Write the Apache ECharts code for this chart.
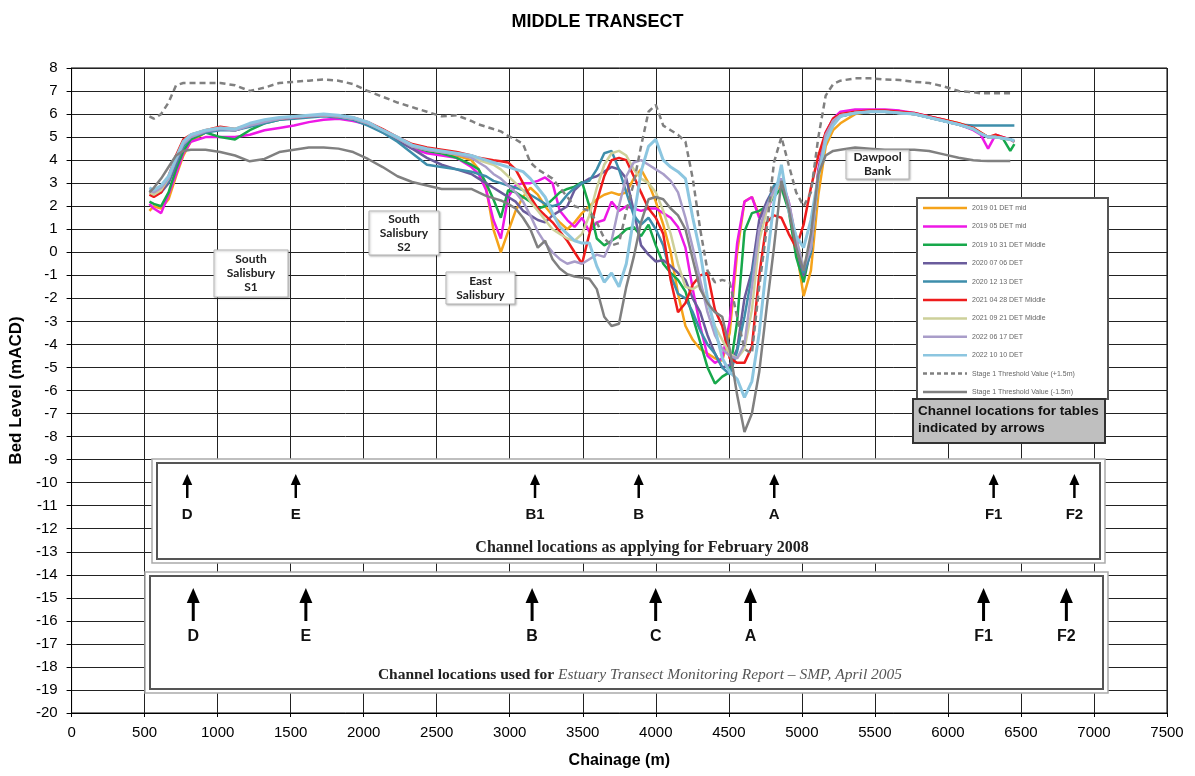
<!DOCTYPE html>
<html><head><meta charset="utf-8">
<script src="https://cdn.jsdelivr.net/npm/echarts@6/dist/echarts.min.js"></script>
<style>html,body{margin:0;padding:0;background:#fff}#c{width:1195px;height:776px}</style>
</head><body><div id="c"></div>
<script>
// ---- DATA ----
const CH = [533,563,613,664,715,765,816,917,1018,1119,1220,1321,1422,1523,1624,1726,1827,1928,2029,2130,2231,2332,2433,2534,2636,2737,
2787,2838,2888,2939,2989,3040,3091,3141,3192,3242,
3293,3343,3394,3444,3495,3545,3596,3647,3697,3748,
3798,3849,3899,3950,4000,4051,4102,4152,4203,4253,
4304,4354,4405,4455,4506,4557,4607,4658,4708,4759,
4809,4860,4910,4961,5012,5062,5113,5163,5214,
5264,5365,5467,5568,5669,5770,5871,5972,6073,6174,6225,6275,6326,6376,6427,6455];

const NAMES = ['2019 01 DET mid','2019 05 DET mid','2019 10 31 DET Middle','2020 07 06 DET','2020 12 13 DET','2021 04 28 DET Middle','2021 09 21 DET Middle','2022 06 17 DET','2022 10 10 DET','Stage 1 Threshold Value (+1.5m)','Stage 1 Threshold Value (-1.5m)'];

const S201901 = [1.8,2.0,1.9,2.3,3.3,4.2,4.8,5.2,5.35,5.3,5.5,5.65,5.8,5.85,5.9,5.95,5.9,5.8,5.6,5.25,4.9,4.6,4.4,4.3,4.2,4.0,
3.6,2.8,1.0,0.0,0.9,1.8,2.4,2.8,2.5,2.0,
1.6,1.3,1.0,1.3,1.7,2.0,2.3,2.5,2.6,2.5,
2.6,3.2,3.6,3.0,2.2,1.2,0.0,-1.8,-3.2,-3.8,
-4.2,-4.4,-4.6,-4.7,-3.5,0.0,2.2,2.4,1.6,2.0,
2.6,3.0,2.0,0.2,-1.9,-0.8,2.5,4.6,5.3,
5.6,6.0,6.1,6.1,6.05,6.0,5.9,5.75,5.6,5.4,5.2,5.0,5.0,4.95,4.9,4.8];

const S201905 = [2.1,1.9,1.7,2.5,3.4,4.3,4.8,5.0,5.0,5.0,5.1,5.3,5.4,5.5,5.65,5.75,5.8,5.7,5.55,5.25,4.9,4.5,4.3,4.2,4.1,3.7,
3.4,2.7,1.4,0.6,2.4,2.9,3.0,3.0,3.1,3.25,
3.0,1.8,1.4,1.1,1.5,0.9,1.3,1.4,2.2,1.8,
2.0,1.9,1.8,1.9,1.9,1.7,1.5,1.1,0.2,-1.6,
-3.2,-4.5,-4.8,-4.6,-3.0,0.4,2.2,2.4,1.5,1.8,
2.5,3.2,2.2,0.4,-1.2,0.5,3.6,5.2,5.8,
6.1,6.2,6.2,6.2,6.15,6.05,5.9,5.75,5.55,5.3,5.1,4.5,5.1,5.0,4.9,4.8];

const S201910 = [2.2,2.1,2.0,2.6,3.6,4.4,4.9,5.2,5.0,4.9,5.3,5.6,5.75,5.85,5.9,5.95,5.9,5.8,5.6,5.25,4.9,4.6,4.4,4.3,4.1,3.8,
3.6,3.0,2.3,1.5,2.7,2.6,2.4,2.2,1.9,2.0,
2.3,2.6,2.75,2.85,3.05,2.0,0.6,0.3,0.5,0.7,
1.0,1.1,0.7,1.2,0.3,-0.5,-0.9,-1.2,-1.7,-2.8,
-3.9,-5.0,-5.7,-5.4,-5.2,-3.0,0.9,1.7,1.8,2.0,
2.4,2.8,1.8,-0.2,-1.3,0.2,3.3,5.0,5.6,
5.9,6.05,6.1,6.1,6.05,6.0,5.85,5.7,5.55,5.35,5.15,5.0,5.0,4.95,4.4,4.7];

const S202007 = [2.6,2.5,2.6,3.0,3.8,4.6,5.0,5.25,5.35,5.3,5.5,5.65,5.8,5.85,5.9,5.95,5.9,5.8,5.55,5.2,4.85,4.5,4.1,3.8,3.6,3.4,
3.2,3.0,2.8,2.6,2.4,2.2,1.8,1.6,1.4,1.3,
1.6,1.8,2.0,2.7,3.0,3.2,3.3,3.5,3.7,3.6,
3.2,1.8,0.3,-0.1,-0.4,-0.35,-0.6,-0.9,-1.2,-2.0,
-2.6,-3.6,-4.4,-5.0,-4.9,-4.2,-2.0,-0.8,1.4,2.2,
2.8,3.0,2.0,0.3,-1.0,0.0,3.5,5.1,5.7,
5.95,6.05,6.1,6.1,6.05,6.0,5.85,5.7,5.55,5.35,5.15,5.0,5.0,4.95,4.9,4.8];

const S202012 = [2.7,2.6,2.7,3.1,3.9,4.6,5.0,5.2,5.3,5.3,5.45,5.6,5.75,5.8,5.85,5.9,5.85,5.75,5.5,5.2,4.8,4.3,3.8,3.7,3.6,3.5,
3.4,3.3,3.1,3.0,2.9,2.8,2.7,2.5,2.3,2.1,
2.0,2.1,2.5,2.8,3.0,3.1,3.6,4.3,4.4,3.6,
2.6,1.6,1.2,1.5,1.0,0.3,-1.0,-1.8,-2.0,-2.6,
-3.4,-4.0,-4.4,-5.0,-5.3,-4.3,-2.8,-1.0,0.8,2.0,
2.9,3.1,2.0,0.4,-0.9,0.0,3.4,5.0,5.6,
5.9,6.05,6.1,6.1,6.05,6.0,5.85,5.7,5.55,5.5,5.5,5.5,5.5,5.5,5.5,5.5];

const S202104 = [2.5,2.4,2.6,3.3,4.2,4.9,5.1,5.3,5.45,5.35,5.55,5.7,5.8,5.85,5.9,5.95,5.9,5.85,5.65,5.35,5.0,4.7,4.55,4.45,4.35,4.2,
4.1,4.05,4.0,3.95,3.9,3.6,3.0,2.4,1.9,1.6,
1.3,0.9,0.5,0.0,-0.5,0.8,2.2,3.3,4.0,4.1,
4.0,3.3,2.6,1.9,1.5,0.8,-1.2,-2.6,-2.2,-1.4,
-1.0,-0.9,-2.5,-3.2,-4.6,-4.8,-4.8,-4.1,-1.0,1.3,
1.6,1.5,0.8,0.2,1.2,2.8,4.2,5.2,5.8,
6.0,6.1,6.15,6.15,6.1,6.05,5.9,5.75,5.6,5.4,5.2,5.0,5.1,5.0,4.9,4.8];

const S202109 = [2.6,2.5,2.7,3.2,4.1,4.8,5.1,5.3,5.4,5.35,5.55,5.7,5.8,5.9,5.95,5.95,5.9,5.8,5.6,5.3,4.95,4.6,4.45,4.35,4.25,4.15,
4.0,3.9,3.8,3.6,3.3,3.0,2.7,2.2,1.8,1.4,
1.0,0.8,0.6,0.5,0.8,1.6,2.8,3.8,4.3,4.4,
4.2,3.6,3.2,3.0,2.6,1.8,0.8,-0.5,-1.5,-1.6,
-1.4,-2.2,-3.2,-3.8,-4.4,-4.6,-4.2,-2.5,0.5,1.8,
2.6,3.1,2.1,0.6,-0.6,0.2,3.3,5.0,5.7,
5.95,6.05,6.1,6.1,6.05,6.0,5.85,5.7,5.55,5.35,5.15,5.0,5.0,4.95,4.9,4.8];

const S202206 = [2.7,2.6,2.8,3.2,4.0,4.7,5.0,5.25,5.35,5.3,5.5,5.65,5.8,5.85,5.9,5.95,5.9,5.8,5.6,5.3,4.95,4.6,4.45,4.35,4.25,4.1,
3.9,3.7,3.4,3.2,2.9,2.6,2.2,1.6,0.9,0.4,
0.0,-0.3,-0.5,-0.4,-0.5,-0.3,-0.1,-0.2,0.5,2.0,
3.3,3.9,4.0,3.8,3.6,3.4,3.1,2.6,1.5,0.2,
-1.2,-2.6,-3.6,-4.2,-4.5,-4.6,-4.0,-1.5,1.0,2.0,
2.7,3.2,2.2,0.6,-0.7,0.2,3.4,5.1,5.7,
5.95,6.05,6.1,6.1,6.05,6.0,5.85,5.7,5.55,5.35,5.15,5.0,5.0,4.95,4.9,4.8];

const S202210 = [2.8,2.7,2.9,3.3,4.1,4.8,5.1,5.3,5.4,5.35,5.6,5.75,5.85,5.9,5.95,6.0,5.95,5.85,5.65,5.3,5.0,4.65,4.5,4.4,4.3,4.2,
4.1,4.0,3.9,3.8,3.7,3.6,3.5,3.2,2.8,2.4,
1.7,1.1,0.8,0.5,0.4,0.4,-0.6,-1.3,-0.9,-1.5,
-0.5,1.5,3.5,4.6,4.9,4.0,3.7,3.5,3.2,1.5,
0.0,-2.0,-3.3,-4.6,-5.2,-5.5,-6.3,-5.6,-3.5,-0.5,
2.2,3.8,1.8,0.7,0.2,1.4,3.3,4.8,5.5,
5.9,6.05,6.1,6.1,6.05,6.0,5.85,5.7,5.55,5.35,5.15,5.0,5.0,4.95,4.9,4.85];

const TH_UP = [5.9,5.8,6.0,6.5,7.25,7.35,7.35,7.35,7.35,7.25,7.0,7.15,7.35,7.4,7.45,7.5,7.45,7.3,7.0,6.75,6.5,6.3,6.1,5.9,5.95,5.7,
5.55,5.45,5.35,5.25,5.05,4.9,4.7,3.9,3.6,3.4,
3.2,2.8,2.4,2.0,1.9,1.8,1.3,0.6,0.3,0.4,
1.8,3.0,4.6,6.1,6.4,5.5,5.3,5.1,4.8,3.2,
1.0,-0.8,-1.3,-1.2,-1.3,-2.8,-4.2,-4.4,-1.5,1.0,
3.9,5.0,3.8,2.6,2.0,2.6,5.0,6.8,7.3,
7.45,7.55,7.55,7.5,7.48,7.4,7.35,7.2,7.0,6.95,6.9,6.9,6.9,6.9,6.9,null];

const TH_DN = [2.6,2.8,3.2,3.7,4.2,4.4,4.45,4.45,4.35,4.2,3.95,4.05,4.35,4.45,4.55,4.55,4.5,4.35,4.05,3.7,3.3,3.05,2.9,2.75,2.75,2.75,
2.6,2.45,2.35,2.25,2.1,1.9,1.5,1.0,0.2,0.5,
-0.3,-0.7,-0.95,-1.05,-1.1,-1.15,-1.6,-2.8,-3.2,-3.1,
-1.5,-0.2,1.3,2.3,2.4,2.3,1.9,1.6,1.0,-0.3,
-1.6,-2.2,-2.6,-2.8,-4.2,-6.2,-7.8,-7.0,-5.2,-2.4,
0.2,3.1,1.9,0.2,-0.8,0.8,3.4,4.2,4.4,
4.45,4.55,4.5,4.45,4.45,4.45,4.4,4.25,4.1,4.0,3.97,3.96,3.96,3.96,3.96,null];

const ARROW_2008_CH = [792,1535,3173,3883,4811,6313,6866];
const ARROW_2008_LB = ['D','E','B1','B','A','F1','F2'];
const ARROW_2005_CH = [833,1604,3153,3999,4648,6244,6811];
const ARROW_2005_LB = ['D','E','B','C','A','F1','F2'];

// ---- CHART ----
const SANS = 'Liberation Sans';
const SERIF = 'Liberation Serif';
const VALUES = [S201901,S201905,S201910,S202007,S202012,S202104,S202109,S202206,S202210,TH_UP,TH_DN];
const COLORS = ['#f5a31a','#ee18e6','#17a84b','#6a5c9c','#3e8eab','#ee1c1c','#cdd09a','#a99dc9','#8cc6e0','#808080','#808080'];
const WIDTHS = [2.5,2.5,2.5,2.5,2.5,2.5,2.5,2.5,3,2.5,2.5];

const series = VALUES.map((arr, k) => ({
  name: NAMES[k],
  type: 'line',
  symbol: 'none',
  showSymbol: false,
  connectNulls: false,
  z: 2,
  color: COLORS[k],
  lineStyle: {color: COLORS[k], width: WIDTHS[k], type: k === 9 ? [6, 4] : 'solid'},
  data: CH.map((x, i) => [x, arr[i] === null || arr[i] === undefined ? null : arr[i]])
}));

const chart = echarts.init(document.getElementById('c'), null, {renderer: 'canvas'});
chart.setOption({
  animation: false,
  backgroundColor: '#fff',
  title: {text: 'MIDDLE TRANSECT', left: 'center', top: 8,
    textStyle: {fontFamily: SANS, fontSize: 18, fontWeight: 'bold', color: '#000'}},
  grid: {left: 68, right: 28, top: 68, bottom: 63, show: true, borderColor: '#000', borderWidth: 1, backgroundColor: 'transparent'},
  xAxis: {type: 'value', min: 0, max: 7500, interval: 500,
    name: 'Chainage (m)', nameLocation: 'middle', nameGap: 40,
    nameTextStyle: {fontFamily: SANS, fontSize: 16, fontWeight: 'bold', color: '#000'},
    axisLine: {onZero: false, lineStyle: {color: '#000', width: 1}},
    axisTick: {show: true, length: 4, lineStyle: {color: '#000'}},
    axisLabel: {fontFamily: SANS, fontSize: 15, color: '#000', margin: 12, formatter: v => String(v)},
    splitLine: {show: true, lineStyle: {color: '#222', width: 1}}},
  yAxis: {type: 'value', min: -20, max: 8, interval: 1,
    name: 'Bed Level (mACD)', nameLocation: 'middle', nameGap: 42, nameRotate: 90,
    nameTextStyle: {fontFamily: SANS, fontSize: 17, fontWeight: 'bold', color: '#000'},
    axisLine: {show: true, onZero: false, lineStyle: {color: '#000', width: 1}},
    axisTick: {show: true, length: 5, lineStyle: {color: '#000'}},
    axisLabel: {fontFamily: SANS, fontSize: 15, color: '#000', margin: 14},
    splitLine: {show: true, lineStyle: {color: '#222', width: 1}}},
  series: series
});

const px = v => chart.convertToPixel({xAxisIndex: 0}, v);
const G = [];
// legend frame + items
G.push({type: 'rect', z: 20, shape: {x: 917, y: 198, width: 191, height: 201}, style: {fill: '#fff', stroke: '#555', lineWidth: 2}});
NAMES.forEach((n, i) => {
  const y = 208 + i * 18.4;
  G.push({type: 'line', z: 21, shape: {x1: 923, y1: y, x2: 967, y2: y},
    style: {stroke: COLORS[i], lineWidth: 2.5, lineDash: i === 9 ? [4, 3] : null}});
  G.push({type: 'text', z: 21, x: 972, y: y, style: {text: n, fill: '#666', font: '7px "Liberation Sans"', align: 'left', verticalAlign: 'middle'}});
});
G.push({type: 'rect', z: 22, shape: {x: 913, y: 399, width: 192, height: 44}, style: {fill: '#bfbfbf', stroke: '#333', lineWidth: 2}});
G.push({type: 'text', z: 23, x: 918, y: 403, style: {text: 'Channel locations for tables\nindicated by arrows', fill: '#111',
  font: 'bold 13.5px "Liberation Sans"', lineHeight: 17, align: 'left', verticalAlign: 'top'}});

function labelBox(x, y, w, h, txt) {
  G.push({type: 'rect', z: 20, shape: {x: x, y: y, width: w, height: h},
    style: {fill: '#fff', stroke: '#b5b5b5', lineWidth: 1, shadowBlur: 2, shadowColor: 'rgba(0,0,0,0.25)', shadowOffsetX: 1, shadowOffsetY: 1}});
  G.push({type: 'text', z: 21, x: x + w / 2, y: y + h / 2, style: {text: txt, fill: '#222',
    font: 'bold 12px Lato', lineHeight: 14, align: 'center', verticalAlign: 'middle'}});
}
labelBox(214, 250, 74, 47, 'South\nSalisbury\nS1');
labelBox(369, 211, 70, 44, 'South\nSalisbury\nS2');
labelBox(446, 272, 69, 32, 'East\nSalisbury');
labelBox(846, 150, 63, 29, 'Dawpool\nBank');

// arrow panels
function panel(x1, y1, x2, y2) {
  G.push({type: 'rect', z: 20, shape: {x: x1, y: y1, width: x2 - x1, height: y2 - y1}, style: {fill: '#fff', stroke: '#aaa', lineWidth: 1.5}});
  G.push({type: 'rect', z: 21, shape: {x: x1 + 5, y: y1 + 4, width: x2 - x1 - 10, height: y2 - y1 - 8}, style: {fill: 'none', stroke: '#555', lineWidth: 2}});
}
panel(152, 459, 1105, 563);
panel(145, 572, 1108, 693);

function arrow(cx, top, headH, halfW, bottom, lw, label, ly, fs) {
  G.push({type: 'polygon', z: 22, shape: {points: [[cx, top], [cx - halfW, top + headH], [cx + halfW, top + headH]]}, style: {fill: '#000'}});
  G.push({type: 'line', z: 22, shape: {x1: cx, y1: top + headH - 1, x2: cx, y2: bottom}, style: {stroke: '#000', lineWidth: lw}});
  G.push({type: 'text', z: 22, x: cx, y: ly, style: {text: label, fill: '#111', font: 'bold ' + fs + 'px "Liberation Sans"', align: 'center', verticalAlign: 'middle'}});
}
ARROW_2008_CH.forEach((c, i) => arrow(px(c), 474, 11, 5, 498, 2.5, ARROW_2008_LB[i], 515, 15));
ARROW_2005_CH.forEach((c, i) => arrow(px(c), 588, 15, 6.5, 621, 3, ARROW_2005_LB[i], 637, 16));

G.push({type: 'text', z: 22, x: 642, y: 548, style: {text: 'Channel locations as applying for February 2008', fill: '#222',
  font: 'bold 16px "Liberation Serif"', align: 'center', verticalAlign: 'middle'}});
G.push({type: 'text', z: 22, x: 640, y: 675, style: {
  text: '{b|Channel locations used for }{i|Estuary Transect Monitoring Report – SMP, April 2005}',
  align: 'center', verticalAlign: 'middle',
  rich: {b: {fontFamily: SERIF, fontWeight: 'bold', fontSize: 15.5, fill: '#222'},
         i: {fontFamily: SERIF, fontStyle: 'italic', fontSize: 15.5, fill: '#555'}}}});

chart.setOption({graphic: G});
</script>
</body></html>
